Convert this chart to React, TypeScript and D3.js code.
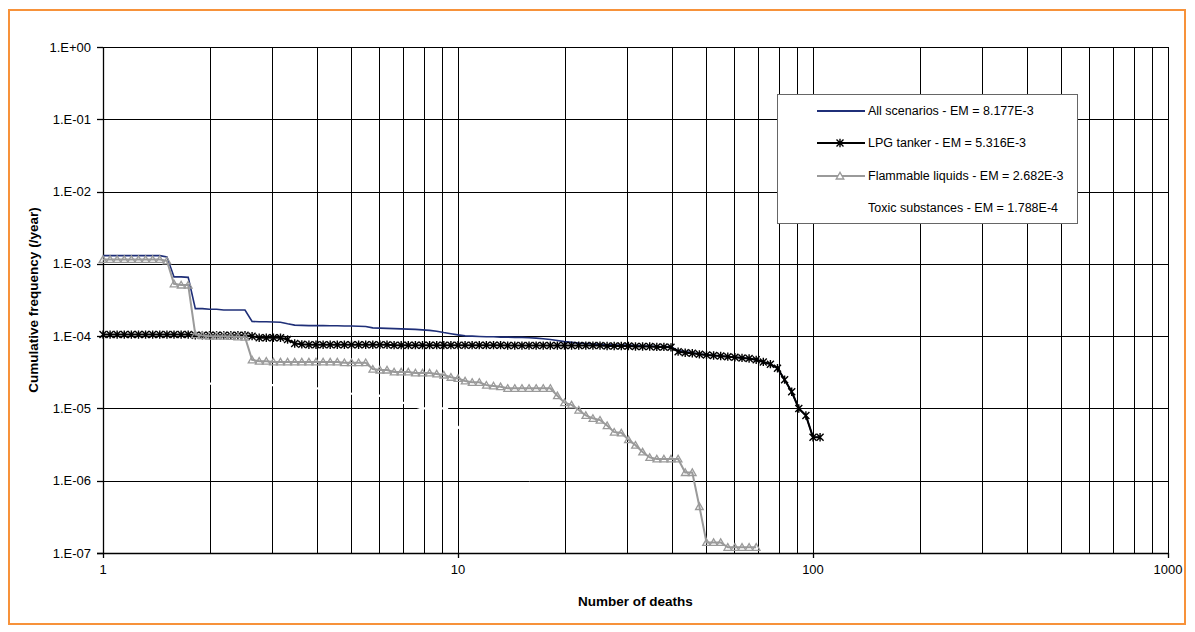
import React from 'react';
import * as d3 from 'd3';

// Number of deaths (N) at which each cumulative frequency was evaluated
const deaths = [
  1.000, 1.047, 1.096, 1.148, 1.202, 1.259, 1.318, 1.380, 1.445, 1.514,
  1.585, 1.660, 1.738, 1.820, 1.905, 1.995, 2.089, 2.188, 2.291, 2.399,
  2.512, 2.630, 2.754, 2.884, 3.020, 3.162, 3.311, 3.467, 3.631, 3.802,
  3.981, 4.169, 4.365, 4.571, 4.786, 5.012, 5.248, 5.495, 5.754, 6.026,
  6.310, 6.607, 6.918, 7.244, 7.586, 7.943, 8.318, 8.710, 9.120, 9.550,
  10.00, 10.47, 10.96, 11.48, 12.02, 12.59, 13.18, 13.80, 14.45, 15.14,
  15.85, 16.60, 17.38, 18.20, 19.05, 19.95, 20.89, 21.88, 22.91, 23.99,
  25.12, 26.30, 27.54, 28.84, 30.20, 31.62, 33.11, 34.67, 36.31, 38.02,
  39.81, 41.69, 43.65, 45.71, 47.86, 50.12, 52.48, 54.95, 57.54, 60.26,
  63.10, 66.07, 69.18, 72.44, 75.86, 79.43, 83.18, 87.10, 91.20, 95.50,
  100.0, 104.7,
];

const allScenarios = [
  1.3e-3, 1.3e-3, 1.3e-3, 1.3e-3, 1.3e-3, 1.3e-3, 1.3e-3, 1.3e-3, 1.3e-3, 1.25e-3,
  6.6e-4, 6.6e-4, 6.5e-4, 2.4e-4, 2.4e-4, 2.35e-4, 2.35e-4, 2.3e-4, 2.3e-4, 2.3e-4,
  2.3e-4, 1.6e-4, 1.58e-4, 1.58e-4, 1.57e-4, 1.56e-4, 1.48e-4, 1.42e-4, 1.41e-4, 1.4e-4,
  1.4e-4, 1.4e-4, 1.39e-4, 1.39e-4, 1.38e-4, 1.38e-4, 1.37e-4, 1.36e-4, 1.3e-4, 1.29e-4,
  1.28e-4, 1.27e-4, 1.26e-4, 1.25e-4, 1.24e-4, 1.22e-4, 1.2e-4, 1.17e-4, 1.12e-4, 1.08e-4,
  1.04e-4, 1.01e-4, 1.0e-4, 9.9e-5, 9.8e-5, 9.8e-5, 9.7e-5, 9.7e-5, 9.6e-5, 9.6e-5,
  9.5e-5, 9.4e-5, 9.2e-5, 9.0e-5, 8.7e-5, 8.4e-5, 8.2e-5, 8.0e-5, 7.9e-5, 7.8e-5,
  7.7e-5, 7.6e-5, 7.6e-5, 7.5e-5, 7.5e-5, 7.4e-5, 7.3e-5, 7.3e-5, 7.2e-5, 7.2e-5,
  7.1e-5, 6.3e-5, 6.1e-5, 5.9e-5, 5.65e-5, 5.5e-5, 5.4e-5, 5.3e-5, 5.2e-5, 5.1e-5,
  5.0e-5, 4.9e-5, 4.7e-5, 4.4e-5, 4.1e-5, 3.6e-5, 2.5e-5, 1.7e-5, 1.0e-5, 8.0e-6,
  4.0e-6, 4.0e-6,
];

const lpgTanker = [
  1.05e-4, 1.05e-4, 1.05e-4, 1.05e-4, 1.05e-4, 1.05e-4, 1.05e-4, 1.05e-4, 1.05e-4, 1.05e-4,
  1.05e-4, 1.05e-4, 1.05e-4, 1.03e-4, 1.03e-4, 1.03e-4, 1.03e-4, 1.03e-4, 1.03e-4, 1.03e-4,
  1.03e-4, 1.0e-4, 9.5e-5, 9.5e-5, 9.5e-5, 9.5e-5, 9.0e-5, 7.9e-5, 7.7e-5, 7.6e-5,
  7.6e-5, 7.6e-5, 7.6e-5, 7.6e-5, 7.6e-5, 7.6e-5, 7.6e-5, 7.6e-5, 7.6e-5, 7.6e-5,
  7.6e-5, 7.5e-5, 7.5e-5, 7.5e-5, 7.5e-5, 7.5e-5, 7.5e-5, 7.5e-5, 7.5e-5, 7.5e-5,
  7.5e-5, 7.5e-5, 7.5e-5, 7.5e-5, 7.5e-5, 7.5e-5, 7.5e-5, 7.4e-5, 7.4e-5, 7.4e-5,
  7.4e-5, 7.4e-5, 7.4e-5, 7.4e-5, 7.4e-5, 7.4e-5, 7.4e-5, 7.4e-5, 7.4e-5, 7.4e-5,
  7.4e-5, 7.3e-5, 7.3e-5, 7.3e-5, 7.3e-5, 7.2e-5, 7.2e-5, 7.2e-5, 7.1e-5, 7.1e-5,
  7.0e-5, 6.1e-5, 5.9e-5, 5.8e-5, 5.6e-5, 5.5e-5, 5.4e-5, 5.3e-5, 5.2e-5, 5.1e-5,
  5.0e-5, 4.9e-5, 4.7e-5, 4.4e-5, 4.1e-5, 3.6e-5, 2.5e-5, 1.7e-5, 1.0e-5, 8.0e-6,
  4.0e-6, 4.0e-6,
];

const flammableLiquids = [
  1.15e-3, 1.15e-3, 1.15e-3, 1.15e-3, 1.15e-3, 1.15e-3, 1.15e-3, 1.15e-3, 1.15e-3, 1.1e-3,
  5.3e-4, 5.1e-4, 5.1e-4, 1.05e-4, 1.02e-4, 1.0e-4, 1.0e-4, 1.0e-4, 9.9e-5, 9.8e-5,
  9.7e-5, 4.7e-5, 4.5e-5, 4.5e-5, 4.4e-5, 4.4e-5, 4.4e-5, 4.4e-5, 4.4e-5, 4.4e-5,
  4.4e-5, 4.4e-5, 4.4e-5, 4.4e-5, 4.3e-5, 4.3e-5, 4.3e-5, 4.3e-5, 3.5e-5, 3.4e-5,
  3.4e-5, 3.2e-5, 3.2e-5, 3.2e-5, 3.1e-5, 3.1e-5, 3.1e-5, 3.0e-5, 2.9e-5, 2.7e-5,
  2.6e-5, 2.4e-5, 2.3e-5, 2.3e-5, 2.1e-5, 2.05e-5, 2.0e-5, 1.9e-5, 1.9e-5, 1.9e-5,
  1.9e-5, 1.9e-5, 1.9e-5, 1.9e-5, 1.5e-5, 1.2e-5, 1.12e-5, 9.5e-6, 8.0e-6, 7.3e-6,
  6.9e-6, 5.8e-6, 4.7e-6, 4.6e-6, 3.7e-6, 3.1e-6, 2.5e-6, 2.1e-6, 2.0e-6, 2.0e-6,
  2.0e-6, 2.0e-6, 1.3e-6, 1.3e-6, 4.4e-7, 1.4e-7, 1.4e-7, 1.4e-7, 1.2e-7, 1.2e-7,
  1.2e-7, 1.2e-7, 1.2e-7,
];

const toxicDeaths = [1, 2, 3, 4, 5, 6, 7, 7.9, 9.3, 10, 16];
const toxicSubstances = [2.4e-5, 2.2e-5, 2.1e-5, 1.9e-5, 1.6e-5, 1.5e-5, 1.2e-5, 1.0e-5, 1.0e-5, 5.5e-6, 1.0e-6];

const yTicks = [1, 1e-1, 1e-2, 1e-3, 1e-4, 1e-5, 1e-6, 1e-7];
const yTickLabels = ['1.E+00', '1.E-01', '1.E-02', '1.E-03', '1.E-04', '1.E-05', '1.E-06', '1.E-07'];
const xTicks = [1, 10, 100, 1000];
const xTickLabels = ['1', '10', '100', '1000'];

const legendLabels = [
  'All scenarios - EM = 8.177E-3',
  'LPG tanker - EM = 5.316E-3',
  'Flammable liquids - EM = 2.682E-3',
  'Toxic substances - EM = 1.788E-4',
];

const FONT = '"Liberation Sans", Arial, Helvetica, sans-serif';
const BLUE = '#1f2f78';
const GRAY = '#9a9a9a';

const starPath = 'M-3.5,-3.5L3.5,3.5M-3.5,3.5L3.5,-3.5M0,-4.2L0,4.2';
const triPath = 'M0,-3.6L3.8,3L-3.8,3Z';

export default function App() {
  const W = 1195;
  const H = 632;
  const left = 103, right = 1168, top = 47, bottom = 553;
  const x = d3.scaleLog().domain([1, 1000]).range([left, right]);
  const y = d3.scaleLog().domain([1e-7, 1]).range([bottom, top]);
  const line = d3.line<number>()
    .x((_, i) => 0)
    .y(() => 0);

  const mkPath = (xs: number[], ys: number[]) =>
    d3.line<number>()
      .x((_, i) => x(xs[i]))
      .y((v) => y(v))(ys) || '';

  const minorX = x.ticks();
  const allPts = allScenarios.map((v, i) => [deaths[i], v]);
  const lpgPts = lpgTanker.map((v, i) => [deaths[i], v]);
  const flamPts = flammableLiquids.map((v, i) => [deaths[i], v]);

  const lx0 = 777, ly0 = 94, lw = 300, lh = 129;
  const rowY = [111, 143, 176, 208];

  return (
    <svg width={W} height={H} style={{ position: 'absolute', left: 0, top: 0, background: '#fff' }}
      fontFamily={FONT}>
      <rect x={0} y={0} width={W} height={H} fill="#fff" />
      <rect x={9} y={10} width={1176} height={614} fill="#fff" stroke="#f7923a" strokeWidth={2} />

      {/* gridlines */}
      {minorX.map((t, i) => (
        <line key={'vx' + i} x1={Math.round(x(t)) + 0.5} x2={Math.round(x(t)) + 0.5} y1={top} y2={bottom}
          stroke="#000" strokeWidth={1} />
      ))}
      {yTicks.map((t, i) => (
        <line key={'hy' + i} x1={left} x2={right} y1={Math.round(y(t)) + 0.5} y2={Math.round(y(t)) + 0.5}
          stroke="#000" strokeWidth={1} />
      ))}

      {/* toxic substances (white line) */}
      <path d={mkPath(toxicDeaths, toxicSubstances)} fill="none" stroke="#fff" strokeWidth={2.2} />

      {/* axes */}
      <line x1={left + 0.5} x2={left + 0.5} y1={top} y2={bottom + 0.5} stroke="#000" strokeWidth={1.3} />
      <line x1={left - 6} x2={right} y1={bottom + 0.5} y2={bottom + 0.5} stroke="#000" strokeWidth={1.3} />
      {yTicks.map((t, i) => (
        <line key={'yt' + i} x1={left - 6} x2={left} y1={Math.round(y(t)) + 0.5} y2={Math.round(y(t)) + 0.5}
          stroke="#000" strokeWidth={1.3} />
      ))}
      {xTicks.map((t, i) => (
        <line key={'xt' + i} x1={Math.round(x(t)) + 0.5} x2={Math.round(x(t)) + 0.5} y1={bottom} y2={bottom + 5}
          stroke="#000" strokeWidth={1.3} />
      ))}
      {yTicks.map((t, i) => (
        <text key={'yl' + i} x={91} y={y(t)} dy="0.35em" textAnchor="end" fontSize={13}>{yTickLabels[i]}</text>
      ))}
      {xTicks.map((t, i) => (
        <text key={'xl' + i} x={x(t)} y={574} textAnchor="middle" fontSize={13}>{xTickLabels[i]}</text>
      ))}
      <text x={(left + right) / 2} y={606} textAnchor="middle" fontSize={13.5} fontWeight="bold">Number of deaths</text>
      <text transform={`translate(38,${(top + bottom) / 2}) rotate(-90)`} textAnchor="middle" fontSize={13.5}
        fontWeight="bold">Cumulative frequency (/year)</text>

      {/* series */}
      <path d={mkPath(deaths, allScenarios)} fill="none" stroke={BLUE} strokeWidth={1.6} />
      <path d={mkPath(deaths, lpgTanker)} fill="none" stroke="#000" strokeWidth={2} />
      {lpgPts.map((p, i) => (
        <path key={'lm' + i} d={starPath} transform={`translate(${x(p[0])},${y(p[1])})`} stroke="#000"
          strokeWidth={1.4} fill="none" />
      ))}
      <path d={mkPath(deaths, flammableLiquids)} fill="none" stroke={GRAY} strokeWidth={2} />
      {flamPts.map((p, i) => (
        <path key={'fm' + i} d={triPath} transform={`translate(${x(p[0])},${y(p[1])})`} stroke={GRAY}
          strokeWidth={1.3} fill="none" />
      ))}

      {/* legend */}
      <rect x={lx0 + 0.5} y={ly0 + 0.5} width={lw} height={lh} fill="#fff" stroke="#666" strokeWidth={1} />
      <line x1={817} x2={865} y1={rowY[0]} y2={rowY[0]} stroke={BLUE} strokeWidth={1.8} />
      <line x1={817} x2={865} y1={rowY[1]} y2={rowY[1]} stroke="#000" strokeWidth={2} />
      <path d={starPath} transform={`translate(840,${rowY[1]})`} stroke="#000" strokeWidth={1.4} fill="none" />
      <line x1={817} x2={865} y1={rowY[2]} y2={rowY[2]} stroke={GRAY} strokeWidth={2} />
      <path d={triPath} transform={`translate(840,${rowY[2]})`} stroke={GRAY} strokeWidth={1.3} fill="#fff" />
      {legendLabels.map((l, i) => (
        <text key={'lg' + i} x={868} y={rowY[i]} dy="0.35em" fontSize={12.5}>{l}</text>
      ))}
    </svg>
  );
}
